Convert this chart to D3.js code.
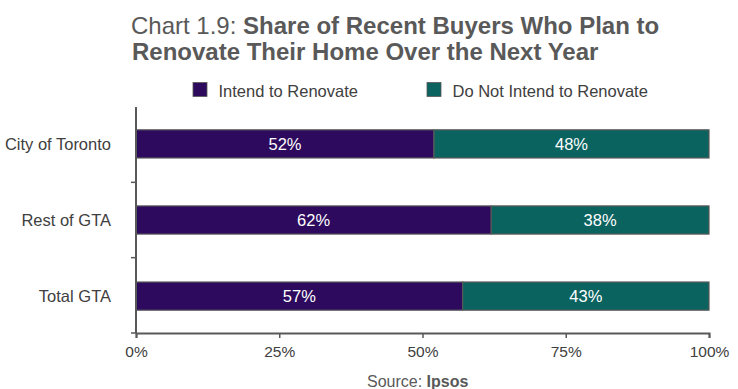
<!DOCTYPE html>
<html>
<head>
<meta charset="utf-8">
<script src="https://cdn.jsdelivr.net/npm/d3@7"></script>
<style>
  body { margin: 0; background: #fff; }
  svg text { font-family: "Liberation Sans", Arial, sans-serif; }
</style>
</head>
<body>
<svg id="chart" width="738" height="389"></svg>
<script>
// --- data ---
const categories = ["City of Toronto", "Rest of GTA", "Total GTA"];
const intendValues = [52, 62, 57];
const notIntendValues = [48, 38, 43];
const seriesNames = ["Intend to Renovate", "Do Not Intend to Renovate"];
const seriesColors = ["#2D0A5E", "#0B6360"];
const xTicks = [0, 25, 50, 75, 100];

const svg = d3.select("#chart");
const margin = { left: 136, right: 29, top: 107, bottom: 56 };
const W = 738, H = 389;

const x = d3.scaleLinear().domain([0, 100]).range([margin.left, W - margin.right]);
const y = d3.scaleBand().domain(categories).range([margin.top, H - margin.bottom])
    .paddingInner(0.63).paddingOuter(0.3);

// title
const title = svg.append("text").attr("x", 131).attr("y", 34)
    .attr("font-size", 24).attr("fill", "#595959");
title.append("tspan").text("Chart 1.9: ");
title.append("tspan").attr("font-weight", "bold").text("Share of Recent Buyers Who Plan to");
svg.append("text").attr("x", 132).attr("y", 60)
    .attr("font-size", 24).attr("fill", "#595959").attr("font-weight", "bold")
    .text("Renovate Their Home Over the Next Year");

// legend
const legendX = [193, 427];
seriesNames.forEach((name, i) => {
    svg.append("rect").attr("x", legendX[i]).attr("y", 82.5).attr("width", 14).attr("height", 14)
        .attr("fill", seriesColors[i]).attr("stroke", "#595959").attr("stroke-width", 0.8);
    svg.append("text").attr("x", legendX[i] + 25.5).attr("y", 96.5)
        .attr("font-size", 16.5).attr("fill", "#404040").text(name);
});

// stacked data
const rows = categories.map((c, i) => ({ cat: c, a: intendValues[i], b: notIntendValues[i] }));
const stack = d3.stack().keys(["a", "b"])(rows);

const layers = svg.append("g").selectAll("g").data(stack).join("g")
    .attr("fill", (d, i) => seriesColors[i]);
layers.selectAll("rect").data(d => d).join("rect")
    .attr("x", d => x(d[0]))
    .attr("y", d => y(d.data.cat))
    .attr("width", d => x(d[1]) - x(d[0]))
    .attr("height", y.bandwidth())
    .attr("stroke", "#595959").attr("stroke-width", 1.2);

layers.selectAll("text").data(d => d).join("text")
    .attr("x", d => (x(d[0]) + x(d[1])) / 2)
    .attr("y", d => y(d.data.cat) + y.bandwidth() / 2 + 6)
    .attr("text-anchor", "middle").attr("font-size", 16.5).attr("fill", "#fff")
    .text(d => (d[1] - d[0]) + "%");

// axes
const axisColor = "#595959";
const xAxis = svg.append("g").attr("transform", `translate(0,${H - margin.bottom})`)
    .call(d3.axisBottom(x).tickValues(xTicks).tickFormat(d => d + "%").tickSizeOuter(0).tickSize(5));
xAxis.select(".domain").attr("stroke", axisColor).attr("stroke-width", 2);
xAxis.selectAll(".tick line").attr("stroke", axisColor).attr("stroke-width", 1.5);
xAxis.selectAll(".tick text").attr("font-size", 15.5).attr("fill", "#404040").attr("dy", "1.05em");

// y axis line and ticks at band boundaries
const yTop = margin.top, yBottom = H - margin.bottom;
svg.append("line").attr("x1", x(0)).attr("x2", x(0)).attr("y1", yTop).attr("y2", yBottom)
    .attr("stroke", axisColor).attr("stroke-width", 2);
const step = (yBottom - yTop) / categories.length;
d3.range(1, categories.length + 1).forEach(i => {
    svg.append("line").attr("x1", x(0) - 5).attr("x2", x(0)).attr("y1", yTop + step * i).attr("y2", yTop + step * i)
        .attr("stroke", axisColor).attr("stroke-width", 1.5);
});
svg.append("g").selectAll("text").data(categories).join("text")
    .attr("x", 111).attr("y", d => y(d) + y.bandwidth() / 2 + 6)
    .attr("text-anchor", "end").attr("font-size", 16.5).attr("fill", "#404040")
    .text(d => d);

// source
const src = svg.append("text").attr("x", 367).attr("y", 387).attr("font-size", 16).attr("fill", "#595959");
src.append("tspan").text("Source: ");
src.append("tspan").attr("font-weight", "bold").text("Ipsos");
</script>
</body>
</html>
